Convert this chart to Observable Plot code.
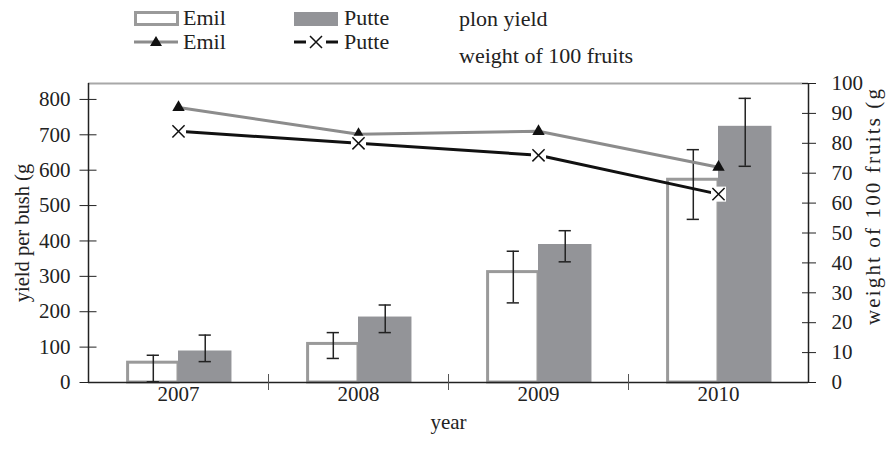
<!DOCTYPE html>
<html><head><meta charset="utf-8">
<script src="https://cdn.jsdelivr.net/npm/d3@7"></script>
<script src="https://cdn.jsdelivr.net/npm/@observablehq/plot@0.6"></script>
<style>
body{margin:0;background:#fff;font-family:"Liberation Serif","Times New Roman",serif;color:#222;}
#legend{position:relative;width:886px;height:60px;font-size:22px;}
#legend .it{position:absolute;white-space:nowrap;line-height:22px;height:22px;}
#legend svg{position:absolute;}
</style></head><body>
<div id="legend"></div>
<div id="chart"></div>
<script>
// ---- data ----
const years = [2007, 2008, 2009, 2010];
const seriesNames = ["Emil", "Putte"];
const emilYield = [56, 109, 312, 573];
const putteYield = [89, 185, 390, 724];
const emilErrLow = [2, 68, 225, 461];
const emilErrHigh = [77, 141, 371, 658];
const putteErrLow = [59, 141, 341, 611];
const putteErrHigh = [134, 219, 429, 803];
const emilWeight = [92, 83, 84, 72];
const putteWeight = [84, 80, 76, 63];
const leftTicks = [0, 100, 200, 300, 400, 500, 600, 700, 800];
const rightTicks = [0, 10, 20, 30, 40, 50, 60, 70, 80, 90, 100];
const leftTitle = "yield per bush (g";
const rightTitle = "weight of 100 fruits (g";

// ---- layout constants ----
const yMax = 845;           // left axis top
const K = yMax / 100;       // right axis (0..100) mapped onto left units
const emilW = 0.28, putteW = 0.297, capHalf = 0.034;

const emilRows = years.map((yr, i) => ({year: yr, v: emilYield[i], lo: emilErrLow[i], hi: emilErrHigh[i],
  x1: yr - emilW, x2: yr, c: yr - emilW / 2}));
const putteRows = years.map((yr, i) => ({year: yr, v: putteYield[i], lo: putteErrLow[i], hi: putteErrHigh[i],
  x1: yr, x2: yr + putteW, c: yr + putteW / 2}));
const barRows = emilRows.concat(putteRows);
const emilW100 = years.map((yr, i) => ({year: yr, w: emilWeight[i] * K}));
const putteW100 = years.map((yr, i) => ({year: yr, w: putteWeight[i] * K}));

// ---- legend ----
const lg = document.getElementById("legend");
lg.innerHTML = `
<svg style="left:134px;top:11px" width="46" height="16"><rect x="1.5" y="1.5" width="42" height="12" fill="white" stroke="#9a9a9a" stroke-width="3"/></svg>
<div class="it" style="left:183px;top:7px">${seriesNames[0]}</div>
<svg style="left:294px;top:11px" width="46" height="16"><rect x="0" y="1" width="44" height="14" fill="#939498"/></svg>
<div class="it" style="left:344px;top:7px">${seriesNames[1]}</div>
<div class="it" style="left:459px;top:8px">plon yield</div>
<svg style="left:134px;top:34px" width="46" height="16"><line x1="0" y1="8" x2="44" y2="8" stroke="#8c8c8c" stroke-width="3"/><path d="M22,2 L28,12 L16,12 Z" fill="#111"/></svg>
<div class="it" style="left:183px;top:31px">${seriesNames[0]}</div>
<svg style="left:294px;top:34px" width="46" height="16"><line x1="0" y1="8" x2="12" y2="8" stroke="#111" stroke-width="3"/><line x1="32" y1="8" x2="44" y2="8" stroke="#111" stroke-width="3"/><path d="M16,2 L28,14 M28,2 L16,14" stroke="#111" stroke-width="1.5"/></svg>
<div class="it" style="left:344px;top:31px">${seriesNames[1]}</div>
<div class="it" style="left:459px;top:45px">weight of 100 fruits</div>`;

// ---- chart ----
const chart = Plot.plot({
  width: 886,
  height: 399,
  marginTop: 23,
  marginBottom: 77,
  marginLeft: 88,
  marginRight: 78,
  style: {fontFamily: "Liberation Serif, Times New Roman, serif", fontSize: "21px", color: "#222", background: "white"},
  x: {domain: [2006.5, 2010.5]},
  y: {domain: [0, yMax]},
  marks: [
    // bars
    Plot.rect(emilRows, {x1: "x1", x2: "x2", y1: 0, y2: "v", fill: "white", stroke: "#9a9a9a", strokeWidth: 3}),
    Plot.rect(putteRows, {x1: "x1", x2: "x2", y1: 0, y2: "v", fill: "#939498"}),
    // error bars
    Plot.ruleX(barRows, {x: "c", y1: "lo", y2: "hi", stroke: "#222", strokeWidth: 1.5}),
    Plot.ruleY(barRows, {y: "hi", x1: d => d.c - capHalf, x2: d => d.c + capHalf, stroke: "#222", strokeWidth: 1.5}),
    Plot.ruleY(barRows, {y: "lo", x1: d => d.c - capHalf, x2: d => d.c + capHalf, stroke: "#222", strokeWidth: 1.5}),
    // frame
    Plot.ruleY([yMax], {stroke: "#a8a8a8", strokeWidth: 2}),
    Plot.ruleY([0], {stroke: "#222", strokeWidth: 1.5}),
    Plot.ruleX([2006.5, 2010.5], {stroke: "#222", strokeWidth: 1.5}),
    // weight lines
    Plot.line(emilW100, {x: "year", y: "w", stroke: "#8c8c8c", strokeWidth: 3}),
    Plot.dot(emilW100, {x: "year", y: "w", symbol: "triangle", r: 4.6, fill: "#111", stroke: "none"}),
    Plot.line(putteW100, {x: "year", y: "w", stroke: "#111", strokeWidth: 3}),
    Plot.dot(putteW100, {x: "year", y: "w", symbol: "square", r: 8.5, fill: "white", stroke: "none"}),
    Plot.dot(putteW100, {x: "year", y: "w", symbol: "times", r: 5.6, stroke: "#111", strokeWidth: 1.5}),
    // x axis
    Plot.axisX({ticks: years, tickFormat: "d", tickSize: 0, tickPadding: 4, label: null}),
    Plot.axisX({ticks: [2007.5, 2008.5, 2009.5], text: null, tickSize: 16, dy: -8, stroke: "#555", label: null}),
    // left axis
    Plot.axisY({ticks: leftTicks, tickSize: 0, tickPadding: 18, label: null}),
    Plot.axisY({ticks: leftTicks, text: null, tickSize: 17, dx: 8.5, stroke: "#222", label: null}),
    // right axis
    Plot.axisY({anchor: "right", ticks: rightTicks.map(v => v * K), tickFormat: d => Math.round(d / K), tickSize: 0, tickPadding: 23, label: null}),
    Plot.axisY({anchor: "right", ticks: rightTicks.map(v => v * K), text: null, tickSize: 14, dx: -7, stroke: "#222", label: null}),
    // titles
    Plot.text([leftTitle], {frameAnchor: "left", textAnchor: "middle", dx: -66, rotate: -90, fontSize: 20.5, fill: "#222"}),
    Plot.text([rightTitle], {frameAnchor: "right", textAnchor: "middle", dx: 65, dy: -26, rotate: -90, fontSize: 21, fill: "#222"}),
    Plot.text(["year"], {frameAnchor: "bottom", dy: 46, fontSize: 21, fill: "#222"})
  ]
});
// the right title in the reference is drawn slightly wider-spaced
chart.querySelectorAll("text").forEach(t => {
  if (t.textContent === rightTitle) { t.setAttribute("textLength", 236); t.setAttribute("lengthAdjust", "spacing"); }
});
document.getElementById("chart").appendChild(chart);
</script>
</body></html>
